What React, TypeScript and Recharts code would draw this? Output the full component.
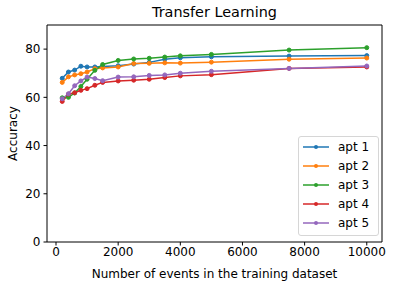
import React from 'react';
import { LineChart, Line, XAxis, YAxis, Legend, ReferenceLine } from 'recharts';

// training set sizes
const events = [200, 400, 600, 800, 1000, 1250, 1500, 2000, 2500, 3000, 3500, 4000, 5000, 7500, 10000];

const apt1 = [67.9, 70.5, 71.3, 72.9, 72.6, 72.6, 72.8, 73.1, 73.8, 74.5, 75.8, 76.4, 76.8, 77.1, 77.3];
const apt2 = [66.2, 68.5, 69.3, 69.8, 70.5, 71.9, 72.2, 72.6, 74.0, 74.1, 74.3, 74.2, 74.6, 75.8, 76.3];
const apt3 = [59.8, 60.0, 61.8, 64.5, 67.5, 71.2, 73.6, 75.3, 75.9, 76.2, 76.7, 77.2, 77.8, 79.6, 80.6];
const apt4 = [58.3, 61.3, 61.9, 62.9, 63.6, 65.0, 66.2, 66.8, 67.1, 67.5, 68.2, 68.9, 69.4, 72.0, 72.6];
const apt5 = [59.4, 61.5, 64.8, 66.8, 68.4, 67.8, 66.9, 68.4, 68.5, 69.1, 69.3, 70.0, 70.8, 72.0, 73.0];

const seriesNames = ['apt 1', 'apt 2', 'apt 3', 'apt 4', 'apt 5'];
const colors = ['#1f77b4', '#ff7f0e', '#2ca02c', '#d62728', '#9467bd'];
const xTicks = [0, 2000, 4000, 6000, 8000, 10000];
const yTicks = [0, 20, 40, 60, 80];

const data = events.map((n, i) => ({
  n,
  a1: apt1[i],
  a2: apt2[i],
  a3: apt3[i],
  a4: apt4[i],
  a5: apt5[i],
}));

const FONT = '"DejaVu Sans", sans-serif';

const LegendBox = (props: any) => {
  const payload = props.payload || [];
  return (
    <div
      style={{
        border: '1px solid #d6d6d6',
        borderRadius: 3,
        background: 'rgba(255,255,255,0.8)',
        padding: '0px 9px 2px 4px',
        fontFamily: FONT,
        fontSize: 12,
        color: '#000',
      }}
    >
      {payload.map((p: any) => (
        <div key={p.value} style={{ display: 'flex', alignItems: 'center', height: 19.2 }}>
          <svg width={26} height={8}>
            <line x1={0} x2={26} y1={4} y2={4} stroke={p.color} strokeWidth={1.5} />
            <circle cx={13} cy={4} r={2} fill={p.color} />
          </svg>
          <span style={{ marginLeft: 9 }}>{p.value}</span>
        </div>
      ))}
    </div>
  );
};

export default function App() {
  const keys = ['a1', 'a2', 'a3', 'a4', 'a5'];
  return (
    <div style={{ position: 'relative', width: 393, height: 286, background: '#fff' }}>
      <style>{'body{margin:0}'}</style>
      <div
        style={{
          position: 'absolute',
          left: 47,
          width: 335,
          top: 4,
          textAlign: 'center',
          fontFamily: FONT,
          fontSize: 14.4,
          color: '#000',
        }}
      >
        Transfer Learning
      </div>
      <LineChart
        width={393}
        height={286}
        data={data}
        margin={{ top: 25, right: 11, left: 0, bottom: 0 }}
      >
        <XAxis
          dataKey="n"
          type="number"
          domain={[-290, 10490]}
          ticks={xTicks}
          allowDataOverflow
          height={44}
          tickSize={3.5}
          tickMargin={2}
          stroke="#000"
          tick={{ fill: '#000', fontSize: 12, fontFamily: FONT }}
          tickLine={{ stroke: '#000' }}
          label={{
            value: 'Number of events in the training dataset',
            position: 'insideBottom',
            offset: 8,
            style: { fill: '#000', fontSize: 12, fontFamily: FONT },
          }}
        />
        <YAxis
          type="number"
          domain={[0, 90]}
          ticks={yTicks}
          allowDataOverflow
          width={47}
          tickSize={3.5}
          tickMargin={3}
          stroke="#000"
          tick={{ fill: '#000', fontSize: 12, fontFamily: FONT }}
          tickLine={{ stroke: '#000' }}
          label={{
            value: 'Accuracy',
            angle: -90,
            position: 'insideLeft',
            offset: 13,
            style: { textAnchor: 'middle', fill: '#000', fontSize: 12, fontFamily: FONT },
          }}
        />
        <ReferenceLine y={90} stroke="#000" strokeWidth={1} />
        <ReferenceLine x={10490} stroke="#000" strokeWidth={1} />
        {keys.map((k, i) => (
          <Line
            key={k}
            type="linear"
            dataKey={k}
            name={seriesNames[i]}
            stroke={colors[i]}
            strokeWidth={1.5}
            dot={{ r: 2, fill: colors[i], stroke: colors[i], strokeWidth: 1 }}
            activeDot={false}
            isAnimationActive={false}
          />
        ))}
        <Legend
          layout="vertical"
          align="center"
          verticalAlign="middle"
          content={<LegendBox />}
          wrapperStyle={{ left: 298, top: 136, right: 'auto', bottom: 'auto', width: 'auto', margin: 0 }}
        />
      </LineChart>
    </div>
  );
}
